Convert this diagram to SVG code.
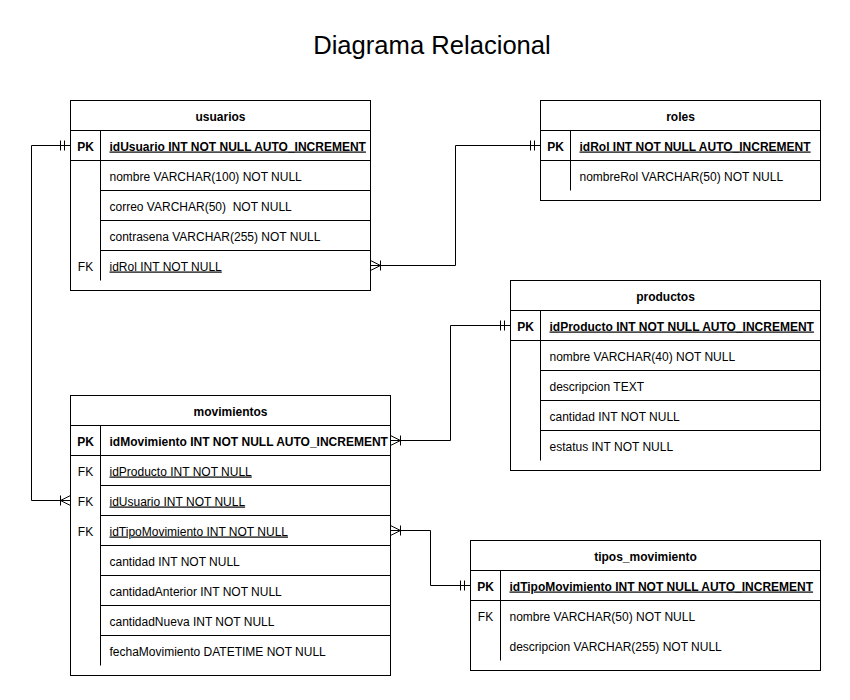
<svg xmlns="http://www.w3.org/2000/svg" width="850" height="700" viewBox="0 0 850 700">
<style>
.box{fill:#fff;stroke:#000;stroke-width:1}
.ln{stroke:#000;stroke-width:1;fill:none}
text{font-family:"Liberation Sans",Arial,Helvetica,sans-serif;font-size:12px;fill:#000}
.h{font-weight:bold;text-anchor:middle}
.k{text-anchor:middle}
.b{font-weight:bold}
.u{text-decoration:underline}
.title{font-size:25.6px;text-anchor:middle}
.conn{stroke:#000;stroke-width:1;fill:none}
</style>
<defs>
<marker id="one" markerUnits="userSpaceOnUse" markerWidth="22" markerHeight="20" refX="20" refY="10" orient="auto-start-reverse" overflow="visible">
<path d="M10,5V15M14,5V15" stroke="#000" stroke-width="1" fill="none"/>
</marker>
<marker id="many" markerUnits="userSpaceOnUse" markerWidth="22" markerHeight="20" refX="20" refY="10" orient="auto-start-reverse" overflow="visible">
<path d="M20,5L10,10L20,15M10,5V15" stroke="#000" stroke-width="1" fill="none"/>
</marker>
</defs>
<rect width="850" height="700" fill="#fff"/>
<text class="title" x="432" y="54">Diagrama Relacional</text>
<g transform="translate(0.5,0.5)">
<g id="connectors">
<path class="conn" d="M370,265H455V145H540" marker-start="url(#many)" marker-end="url(#one)"/>
<path class="conn" d="M390,440H450V325H510" marker-start="url(#many)" marker-end="url(#one)"/>
<path class="conn" d="M70,145H31V500H70" marker-start="url(#one)" marker-end="url(#many)"/>
<path class="conn" d="M390,530H430V585H470" marker-start="url(#many)" marker-end="url(#one)"/>
</g>
<g id="usuarios">
<rect class="box" x="70" y="100" width="300" height="190"/>
<path class="ln" d="M70,130H370M70,160H370M100,190H370M100,220H370M100,250H370M100,130V280"/>
<text class="h" x="220" y="120">usuarios</text>
<text class="k b" x="85" y="150">PK</text>
<text class="b u" x="109" y="150">idUsuario INT NOT NULL AUTO_INCREMENT</text>
<text x="109" y="180">nombre VARCHAR(100) NOT NULL</text>
<text x="109" y="210" xml:space="preserve">correo VARCHAR(50)  NOT NULL</text>
<text x="109" y="240">contrasena VARCHAR(255) NOT NULL</text>
<text class="k" x="85" y="270">FK</text>
<text class="u" x="109" y="270">idRol INT NOT NULL</text>
</g>
<g id="roles">
<rect class="box" x="540" y="100" width="280" height="100"/>
<path class="ln" d="M540,130H820M540,160H820M570,130V190"/>
<text class="h" x="680" y="120">roles</text>
<text class="k b" x="555" y="150">PK</text>
<text class="b u" x="579" y="150">idRol INT NOT NULL AUTO_INCREMENT</text>
<text x="579" y="180">nombreRol VARCHAR(50) NOT NULL</text>
</g>
<g id="productos">
<rect class="box" x="510" y="280" width="310" height="190"/>
<path class="ln" d="M510,310H820M510,340H820M540,370H820M540,400H820M540,430H820M540,310V460"/>
<text class="h" x="665" y="300">productos</text>
<text class="k b" x="525" y="330">PK</text>
<text class="b u" x="549" y="330">idProducto INT NOT NULL AUTO_INCREMENT</text>
<text x="549" y="360">nombre VARCHAR(40) NOT NULL</text>
<text x="549" y="390">descripcion TEXT</text>
<text x="549" y="420">cantidad INT NOT NULL</text>
<text x="549" y="450">estatus INT NOT NULL</text>
</g>
<g id="movimientos">
<rect class="box" x="70" y="395" width="320" height="280"/>
<path class="ln" d="M70,425H390M70,455H390M100,485H390M100,515H390M100,545H390M100,575H390M100,605H390M100,635H390M100,425V665"/>
<text class="h" x="230" y="415">movimientos</text>
<text class="k b" x="85" y="445">PK</text>
<text class="b" x="109" y="445">idMovimiento INT NOT NULL AUTO_INCREMENT</text>
<text class="k" x="85" y="475">FK</text>
<text class="u" x="109" y="475">idProducto INT NOT NULL</text>
<text class="k" x="85" y="505">FK</text>
<text class="u" x="109" y="505">idUsuario INT NOT NULL</text>
<text class="k" x="85" y="535">FK</text>
<text class="u" x="109" y="535">idTipoMovimiento INT NOT NULL</text>
<text x="109" y="565">cantidad INT NOT NULL</text>
<text x="109" y="595">cantidadAnterior INT NOT NULL</text>
<text x="109" y="625">cantidadNueva INT NOT NULL</text>
<text x="109" y="655">fechaMovimiento DATETIME NOT NULL</text>
</g>
<g id="tipos_movimiento">
<rect class="box" x="470" y="540" width="350" height="130"/>
<path class="ln" d="M470,570H820M470,600H820M500,570V660"/>
<text class="h" x="645" y="560">tipos_movimiento</text>
<text class="k b" x="485" y="590">PK</text>
<text class="b u" x="509" y="590">idTipoMovimiento INT NOT NULL AUTO_INCREMENT</text>
<text class="k" x="485" y="620">FK</text>
<text x="509" y="620">nombre VARCHAR(50) NOT NULL</text>
<text x="509" y="650">descripcion VARCHAR(255) NOT NULL</text>
</g>
</g>
</svg>
